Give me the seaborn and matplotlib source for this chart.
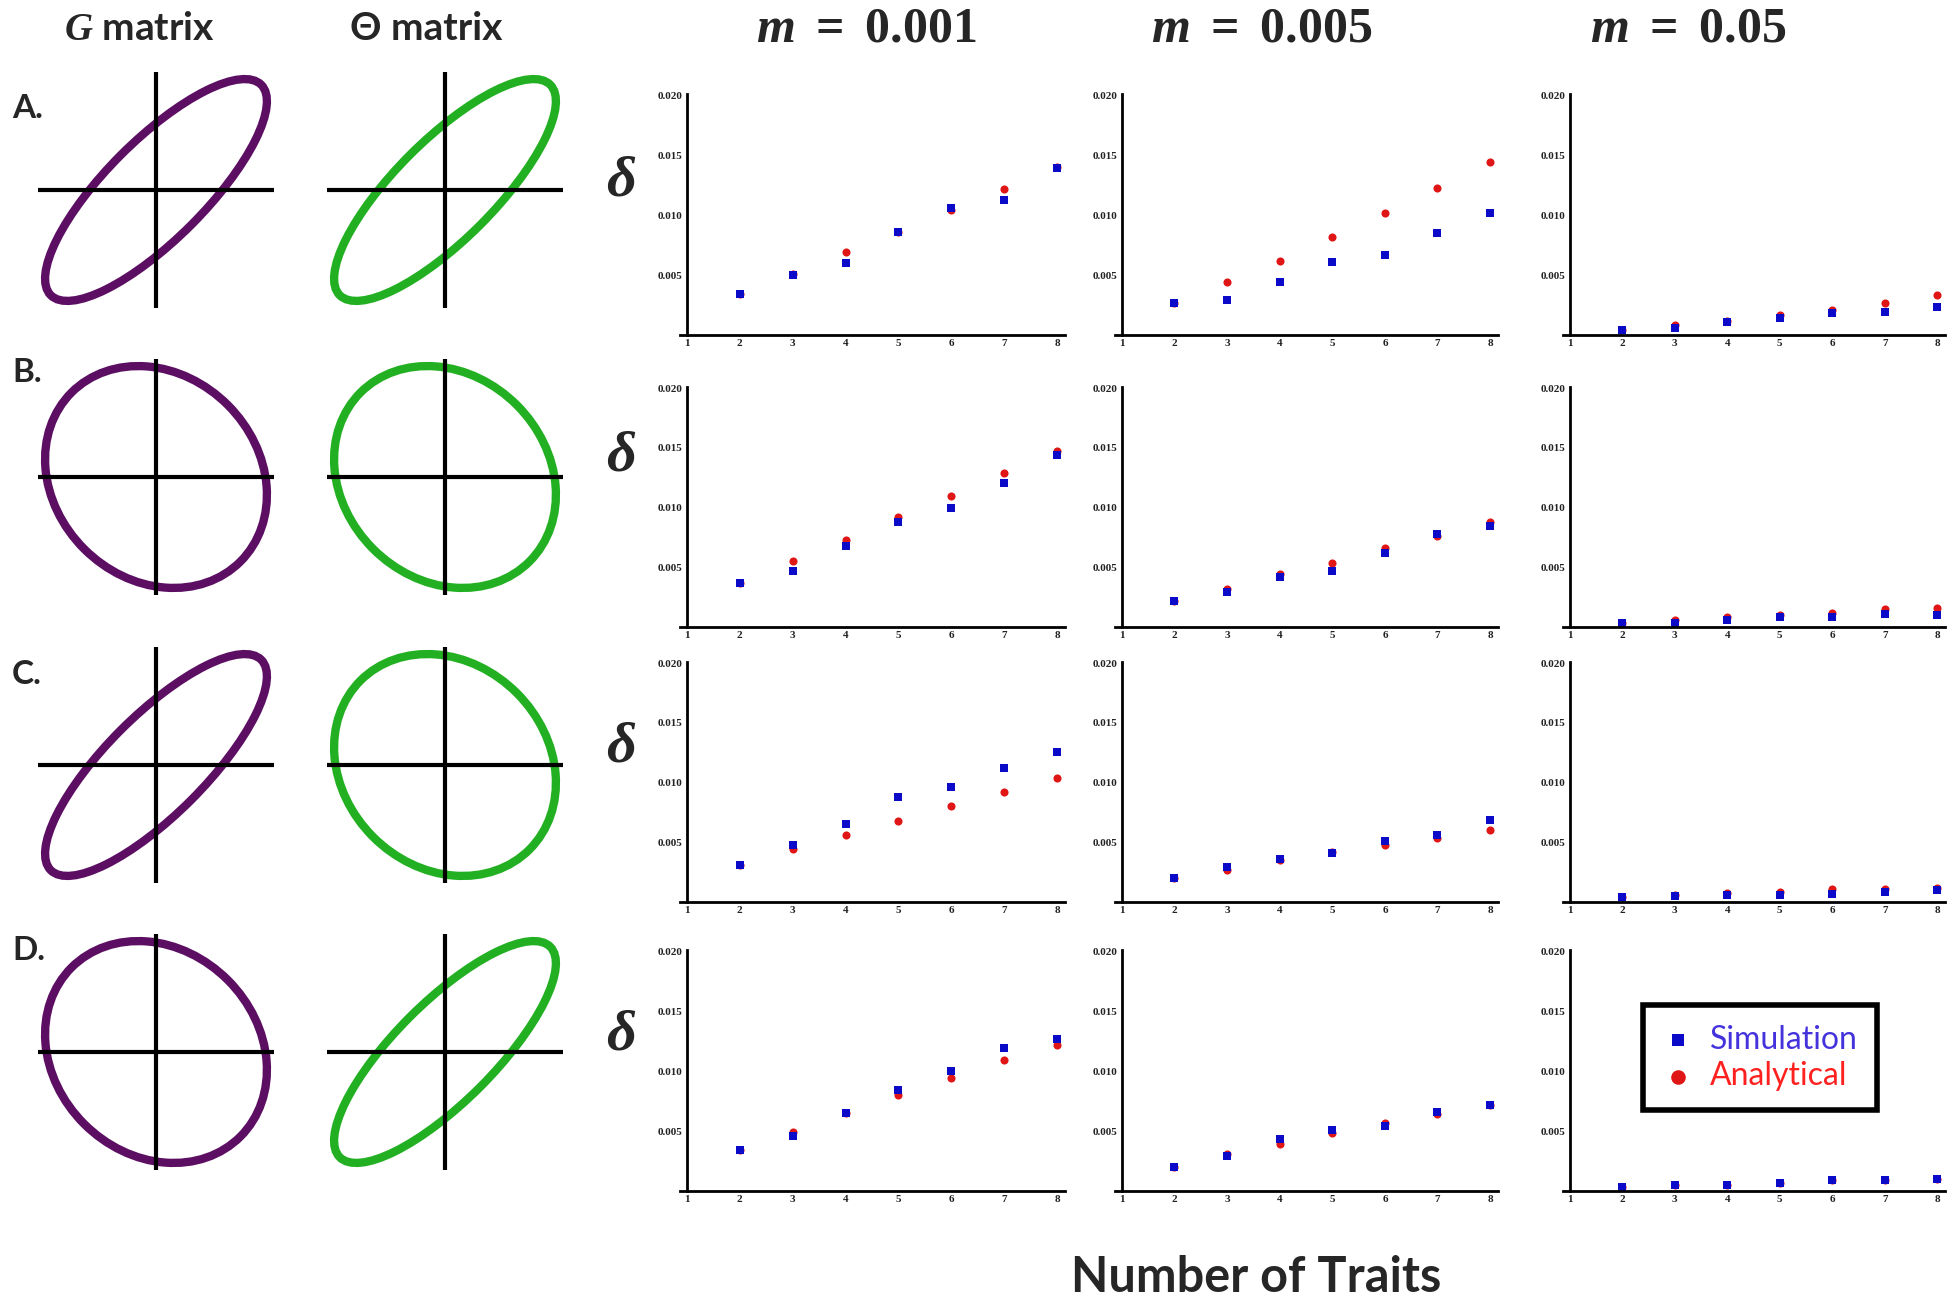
import numpy as np
import pandas as pd
import seaborn as sns
import matplotlib.pyplot as plt
from matplotlib.patches import Ellipse
from matplotlib.ticker import MultipleLocator, FixedLocator, FormatStrFormatter

# numero di tratti (asse x)
traits = [2, 3, 4, 5, 6, 7, 8]
m_labels = ["0.001", "0.005", "0.05"]
row_labels = ["A.", "B.", "C.", "D."]

# correlazione nelle matrici G e Theta per ogni riga
g_corr = [0.8, -0.16, 0.8, -0.16]
theta_corr = [0.8, -0.16, -0.16, 0.8]

# delta: una lista per colonna (m = 0.001, 0.005, 0.05)
sim_A = [[0.0034, 0.0050, 0.0060, 0.0086, 0.0106, 0.0113, 0.0139],
         [0.0027, 0.0029, 0.0044, 0.0061, 0.0067, 0.0085, 0.0102],
         [0.0004, 0.0006, 0.0011, 0.0014, 0.0018, 0.0019, 0.0023]]
ana_A = [[0.0034, 0.0051, 0.0069, 0.0086, 0.0104, 0.0122, 0.0140],
         [0.0027, 0.0044, 0.0062, 0.0082, 0.0102, 0.0123, 0.0144],
         [0.0004, 0.0008, 0.0012, 0.0017, 0.0021, 0.0027, 0.0033]]
sim_B = [[0.0037, 0.0047, 0.0068, 0.0088, 0.0100, 0.0121, 0.0144],
         [0.0022, 0.0029, 0.0042, 0.0047, 0.0062, 0.0078, 0.0085],
         [0.0003, 0.0003, 0.0006, 0.0008, 0.0008, 0.0011, 0.0010]]
ana_B = [[0.0037, 0.0055, 0.0073, 0.0092, 0.0110, 0.0129, 0.0147],
         [0.0022, 0.0032, 0.0044, 0.0054, 0.0066, 0.0076, 0.0088],
         [0.0003, 0.0006, 0.0008, 0.0010, 0.0012, 0.0015, 0.0016]]
sim_C = [[0.0031, 0.0048, 0.0065, 0.0088, 0.0096, 0.0112, 0.0126],
         [0.0020, 0.0029, 0.0036, 0.0041, 0.0051, 0.0056, 0.0069],
         [0.00045, 0.0005, 0.0006, 0.0006, 0.0007, 0.0008, 0.0010]]
ana_C = [[0.0031, 0.0044, 0.0056, 0.0068, 0.0080, 0.0092, 0.0104],
         [0.0020, 0.0027, 0.0035, 0.0042, 0.0048, 0.0054, 0.0060],
         [0.00045, 0.00055, 0.00075, 0.00085, 0.0011, 0.0011, 0.0012]]
sim_D = [[0.0034, 0.0046, 0.0065, 0.0084, 0.0100, 0.0119, 0.0127],
         [0.0020, 0.0029, 0.0043, 0.0051, 0.0054, 0.0066, 0.0072],
         [0.0003, 0.0005, 0.0005, 0.0007, 0.0009, 0.0009, 0.0010]]
ana_D = [[0.0034, 0.0049, 0.0065, 0.0080, 0.0094, 0.0109, 0.0122],
         [0.0020, 0.0031, 0.0039, 0.0048, 0.0057, 0.0064, 0.0072],
         [0.0003, 0.0005, 0.0005, 0.0007, 0.0009, 0.0009, 0.0010]]

sim_rows = [sim_A, sim_B, sim_C, sim_D]
ana_rows = [ana_A, ana_B, ana_C, ana_D]

sns.set_style("white")
plt.rcParams['mathtext.fontset'] = 'custom'
plt.rcParams['mathtext.rm'] = 'Liberation Serif:bold'
plt.rcParams['mathtext.it'] = 'Liberation Serif:italic:bold'
plt.rcParams['mathtext.bf'] = 'Liberation Serif:bold'

W, H = 1959, 1301
fig = plt.figure(figsize=(W / 100, H / 100), dpi=100)


def rect(left, top, right, bottom):
    return [left / W, 1 - bottom / H, (right - left) / W, (bottom - top) / H]


col_px = [(680, 1065), (1115, 1498), (1563, 1945)]
row_px = [(94, 335), (387, 627), (662, 902), (950, 1191)]
row_cy = [190, 477, 765, 1052]

SIM_COLOR = "#0a0ac8"
ANA_COLOR = "#e01515"
PURPLE = "#5c0e63"
GREEN = "#22b022"

# pannelli di dispersione
for i in range(4):
    for j in range(3):
        ax = fig.add_axes(rect(col_px[j][0], row_px[i][0], col_px[j][1], row_px[i][1]))
        ana = pd.DataFrame({"traits": traits, "delta": ana_rows[i][j]})
        sim = pd.DataFrame({"traits": traits, "delta": sim_rows[i][j]})
        sns.scatterplot(data=ana, x="traits", y="delta", ax=ax, color=ANA_COLOR,
                        marker="o", s=34, linewidth=0, label="Analytical", legend=False)
        sns.scatterplot(data=sim, x="traits", y="delta", ax=ax, color=SIM_COLOR,
                        marker="s", s=26, linewidth=0, label="Simulation", legend=False)
        ax.set_xlim(0.87, 8.15)
        ax.set_ylim(0, 0.0201)
        ax.set_xlabel("")
        ax.set_ylabel("")
        ax.spines['top'].set_visible(False)
        ax.spines['right'].set_visible(False)
        ax.spines['left'].set_position(('data', 1))
        for s in ['left', 'bottom']:
            ax.spines[s].set_linewidth(2.0)
            ax.spines[s].set_color('black')
        ax.xaxis.set_major_locator(FixedLocator(range(1, 9)))
        ax.xaxis.set_minor_locator(MultipleLocator(0.2))
        ax.yaxis.set_major_locator(FixedLocator([0.005, 0.010, 0.015, 0.020]))
        ax.yaxis.set_minor_locator(MultipleLocator(0.001))
        ax.yaxis.set_major_formatter(FormatStrFormatter('%.3f'))
        ax.tick_params(which='major', direction='in', length=5, width=1.4,
                       labelsize=8, pad=3, colors='black')
        ax.tick_params(which='minor', direction='in', length=2.5, width=1.2)
        for lbl in ax.get_xticklabels() + ax.get_yticklabels():
            lbl.set_fontfamily('Liberation Serif')
            lbl.set_fontweight('bold')
            lbl.set_color('#222222')
        ax.patch.set_alpha(0)
        if i == 3 and j == 2:
            h, l = ax.get_legend_handles_labels()
            leg = ax.legend(h[::-1], l[::-1], loc='upper left', bbox_to_anchor=(0.21, 0.77),
                            frameon=True, fancybox=False, edgecolor='black', framealpha=1,
                            prop={'family': 'Lato', 'size': 23}, markerscale=1.8,
                            handletextpad=0.5, borderpad=0.6, labelspacing=0.2,
                            handlelength=1.0, borderaxespad=0)
            leg.get_frame().set_linewidth(4)
            for t, c in zip(leg.get_texts(), ["#4433dd", "#ff2020"]):
                t.set_color(c)

# ellissi delle matrici G e Theta
def draw_ellipse(cx, cy, r, color):
    ax = fig.add_axes(rect(cx - 118, cy - 118, cx + 118, cy + 118))
    ax.set_xlim(-1, 1)
    ax.set_ylim(-1, 1)
    ax.axis('off')
    ax.axhline(0, color='black', lw=3)
    ax.axvline(0, color='black', lw=3)
    k = 0.94
    e = Ellipse((0, 0), width=2 * k * np.sqrt(1 + r), height=2 * k * np.sqrt(1 - r),
                angle=45, fill=False, edgecolor=color, lw=6)
    ax.add_patch(e)


label_y = [109, 372, 675, 950]
delta_y = [181, 456, 747, 1035]
for i in range(4):
    draw_ellipse(156, row_cy[i], g_corr[i], PURPLE)
    draw_ellipse(445, row_cy[i], theta_corr[i], GREEN)
    fig.text(12 / W, 1 - label_y[i] / H, row_labels[i], fontsize=24, fontweight='bold',
             family='Lato', ha='left', va='center')
    fig.text(621 / W, 1 - delta_y[i] / H, "δ", fontsize=42,
             family='Liberation Serif', fontweight='bold', style='italic',
             ha='center', va='center')

# intestazioni
fig.text(139 / W, 1 - 28 / H, r"$G$ matrix", fontsize=28, family='Lato',
         fontweight='bold', ha='center', va='center')
fig.text(426 / W, 1 - 28 / H, "Θ matrix", fontsize=28, family=['Lato', 'DejaVu Sans'],
         fontweight='bold', ha='center', va='center')
for x, m in zip([866, 1262, 1688], m_labels):
    fig.text(x / W, 1 - 28 / H, r"$m\ =\ %s$" % m, fontsize=36, ha='center', va='center')

fig.text(1256 / W, 1 - 1278 / H, "Number of Traits", fontsize=35, family='Lato',
         fontweight='bold', ha='center', va='center')

fig.savefig("out.png", dpi=100, facecolor='white')
